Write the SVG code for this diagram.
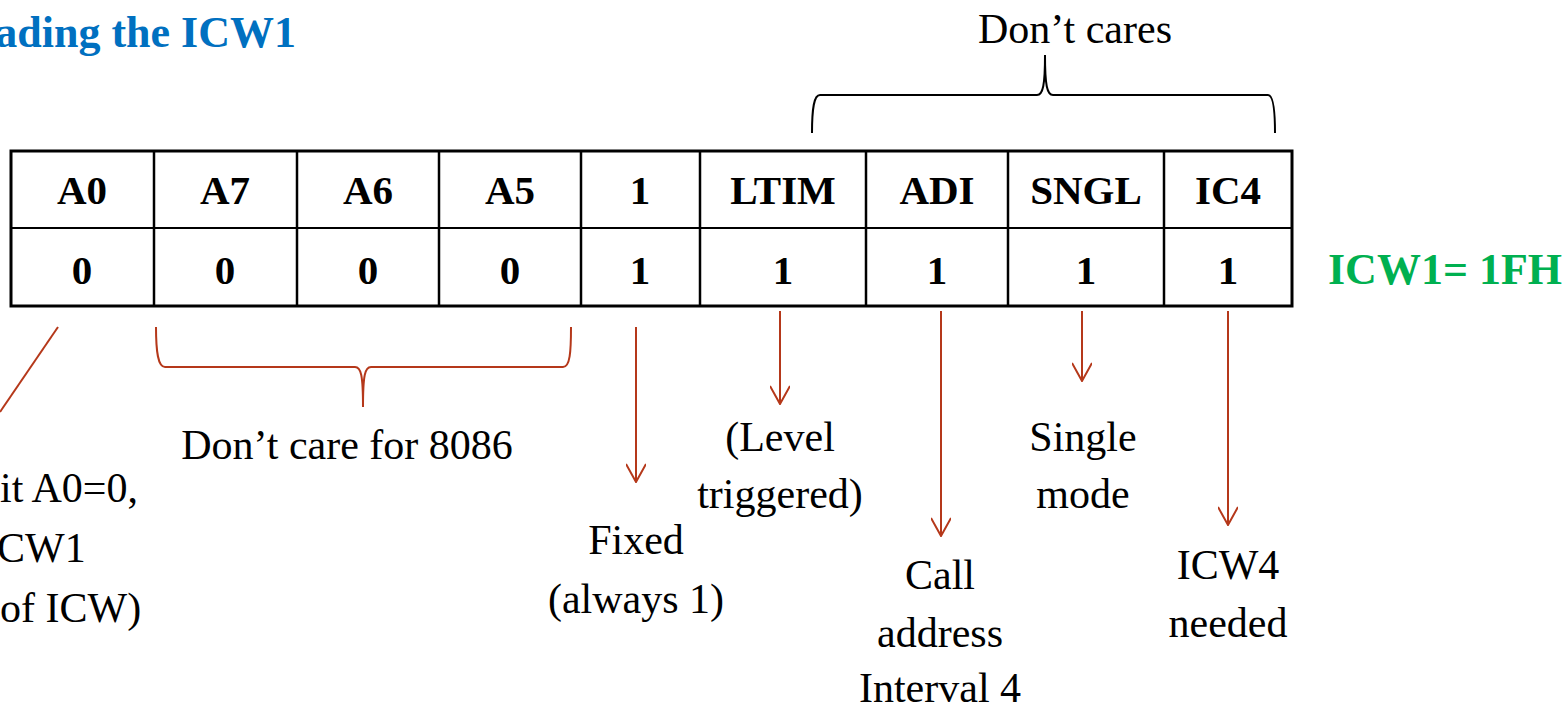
<svg xmlns="http://www.w3.org/2000/svg" width="1568" height="707" viewBox="0 0 1568 707">
<style>
text{font-family:"Liberation Serif","DejaVu Serif","Times New Roman",serif}
.t{font-size:42px;fill:#000;text-anchor:middle}
.h{font-size:41px;font-weight:bold;fill:#000;text-anchor:middle}
.cell{fill:#fff;stroke:#000;stroke-width:3}
.red{fill:none;stroke:#B5381A;stroke-width:2}
.blk{fill:none;stroke:#000;stroke-width:2}
</style>
<defs>
<marker id="ah" viewBox="0 0 20 20" refX="19" refY="10" markerWidth="20" markerHeight="20" markerUnits="userSpaceOnUse" orient="auto">
<path d="M1,0 L19,10 L1,20" fill="none" stroke="#B5381A" stroke-width="2"/>
</marker>
</defs>
<rect width="1568" height="707" fill="#fff"/>
<text id="title" x="296" y="47" style="font-size:44px;font-weight:bold;fill:#0070C0;text-anchor:end">ading the ICW1</text>
<g id="table">
<rect class="cell" x="11" y="151" width="1281" height="155"/>
<line class="blk" x1="11" y1="228" x2="1292" y2="228" stroke-width="3"/>
<g stroke="#000" stroke-width="2.5">
<line x1="154" y1="151" x2="154" y2="306"/>
<line x1="297" y1="151" x2="297" y2="306"/>
<line x1="439" y1="151" x2="439" y2="306"/>
<line x1="581" y1="151" x2="581" y2="306"/>
<line x1="700" y1="151" x2="700" y2="306"/>
<line x1="866" y1="151" x2="866" y2="306"/>
<line x1="1008" y1="151" x2="1008" y2="306"/>
<line x1="1164" y1="151" x2="1164" y2="306"/>
</g>
<g id="cell-a0"><text class="h" x="82" y="204">A0</text><text class="h" x="82" y="284">0</text></g>
<g id="cell-a7"><text class="h" x="225" y="204">A7</text><text class="h" x="225" y="284">0</text></g>
<g id="cell-a6"><text class="h" x="368" y="204">A6</text><text class="h" x="368" y="284">0</text></g>
<g id="cell-a5"><text class="h" x="510" y="204">A5</text><text class="h" x="510" y="284">0</text></g>
<g id="cell-1"><text class="h" x="640" y="204">1</text><text class="h" x="640" y="284">1</text></g>
<g id="cell-ltim"><text class="h" x="783" y="204">LTIM</text><text class="h" x="783" y="284">1</text></g>
<g id="cell-adi"><text class="h" x="937" y="204">ADI</text><text class="h" x="937" y="284">1</text></g>
<g id="cell-sngl"><text class="h" x="1086" y="204">SNGL</text><text class="h" x="1086" y="284">1</text></g>
<g id="cell-ic4"><text class="h" x="1228" y="204">IC4</text><text class="h" x="1228" y="284">1</text></g>
</g>
<text id="result" x="1328" y="284" style="font-size:44px;font-weight:bold;fill:#00B050">ICW1= 1FH</text>
<g id="connectors">
<line class="red" x1="58" y1="327" x2="0" y2="412"/>
<path class="red" d="M156,327 C156,352 158,367 165,367 L355,367 C361,367 363,375 363,407 C363,375 365,367 371,367 L563,367 C570,367 571,352 571,327"/>
<path class="blk" d="M812,133 C812,108 814,95 820,95 L1037,95 C1043,95 1045,85 1045,55 C1045,85 1047,95 1053,95 L1268,95 C1273,95 1275,108 1275,133"/>
<line class="red" x1="636" y1="327" x2="636" y2="482" marker-end="url(#ah)"/>
<line class="red" x1="780" y1="311" x2="780" y2="404" marker-end="url(#ah)"/>
<line class="red" x1="941" y1="311" x2="941" y2="536" marker-end="url(#ah)"/>
<line class="red" x1="1082" y1="311" x2="1082" y2="381" marker-end="url(#ah)"/>
<line class="red" x1="1228" y1="311" x2="1228" y2="525" marker-end="url(#ah)"/>
</g>
<g id="label-a0"><text class="t" x="0" y="502" style="text-anchor:start">it A0=0,</text><text class="t" x="-3" y="562" style="text-anchor:start">CW1</text><text class="t" x="0" y="622" style="text-anchor:start">of ICW)</text></g>
<g id="label-dontcare8086"><text class="t" x="347" y="459">Don’t care for 8086</text></g>
<g id="label-dontcares"><text class="t" x="1075" y="43">Don’t cares</text></g>
<g id="label-fixed"><text class="t" x="636" y="554">Fixed</text><text class="t" x="636" y="613">(always 1)</text></g>
<g id="label-ltim"><text class="t" x="780" y="451">(Level</text><text class="t" x="780" y="508">triggered)</text></g>
<g id="label-adi"><text class="t" x="940" y="589">Call</text><text class="t" x="940" y="647">address</text><text class="t" x="940" y="702">Interval 4</text></g>
<g id="label-sngl"><text class="t" x="1083" y="451">Single</text><text class="t" x="1083" y="508">mode</text></g>
<g id="label-ic4"><text class="t" x="1228" y="579">ICW4</text><text class="t" x="1228" y="637">needed</text></g>
</svg>
